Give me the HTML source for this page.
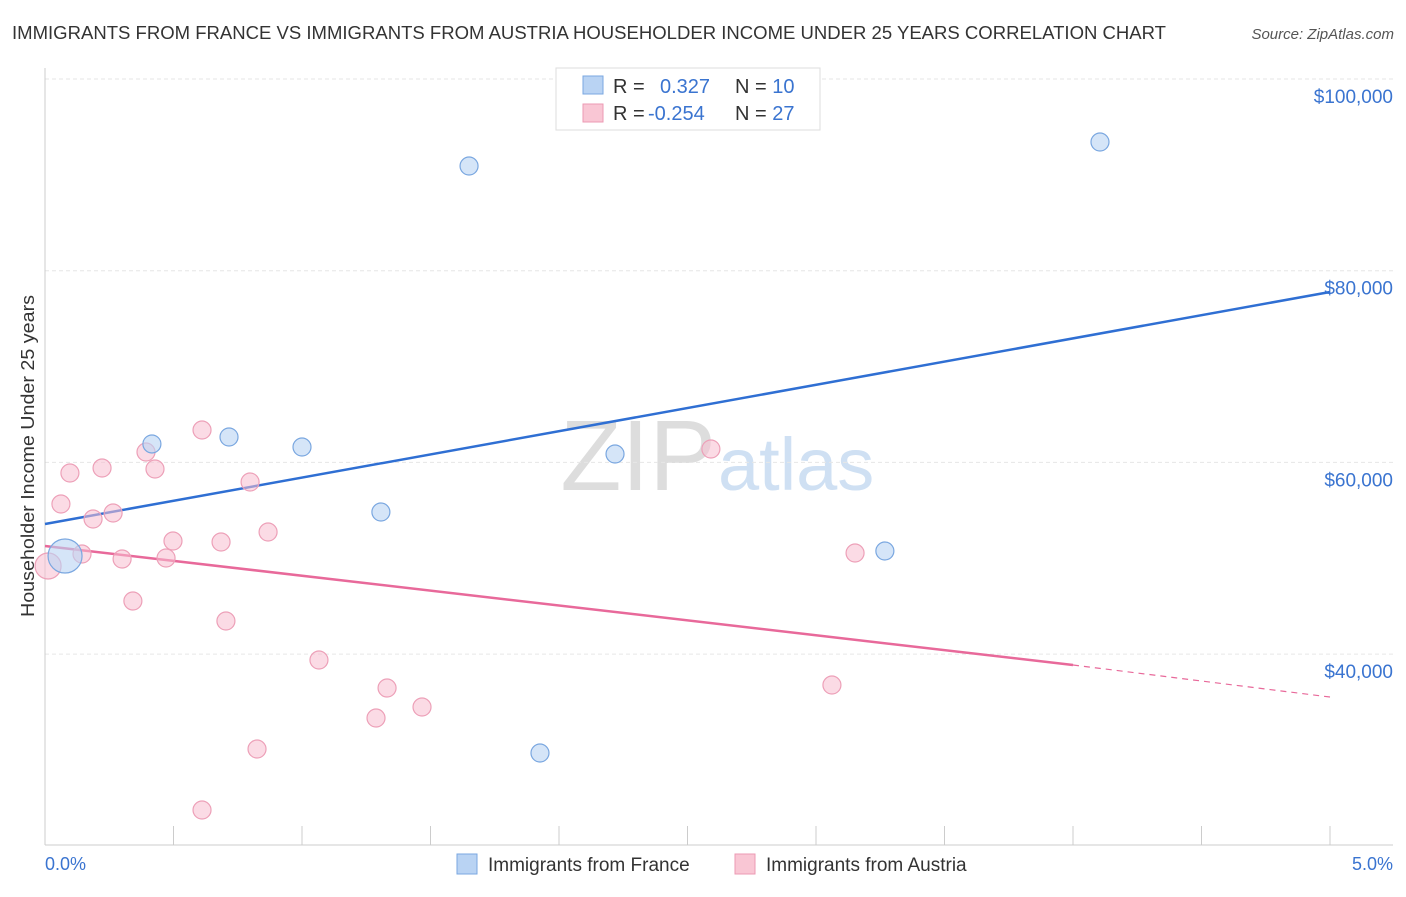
<!DOCTYPE html>
<html><head><meta charset="utf-8"><style>
body{margin:0;background:#fff;font-family:"Liberation Sans",sans-serif;}
svg text{font-family:"Liberation Sans",sans-serif;}
</style></head><body>
<svg id="chart" width="1406" height="892">
<text x="12" y="39" font-size="18" fill="#333" textLength="1154" lengthAdjust="spacingAndGlyphs">IMMIGRANTS FROM FRANCE VS IMMIGRANTS FROM AUSTRIA HOUSEHOLDER INCOME UNDER 25 YEARS CORRELATION CHART</text>
<text x="1394" y="39" font-size="15" fill="#555" text-anchor="end" font-style="italic">Source: ZipAtlas.com</text>
<text x="716" y="490" font-size="100" fill="#ddd" text-anchor="end" font-family="Liberation Serif">ZIP</text>
<text x="718" y="490" font-size="74" fill="#cfe0f3">atlas</text>
<g id="grid"></g><g id="axes"></g><g id="lines"></g><g id="points"></g>
<text transform="translate(34,456) rotate(-90)" font-size="18" fill="#333" text-anchor="middle" textLength="322" lengthAdjust="spacingAndGlyphs">Householder Income Under 25 years</text>
<text x="45" y="870" font-size="18" fill="#3a74d0">0.0%</text>
<text x="1393" y="870" font-size="18" fill="#3a74d0" text-anchor="end">5.0%</text>
<g>
<rect x="556" y="68" width="264" height="62" fill="#fff" stroke="#ddd"/>
<rect x="583" y="76" width="20" height="18" fill="#b9d3f3" stroke="#7aa7e0"/>
<rect x="583" y="104" width="20" height="18" fill="#f9c6d4" stroke="#ec9ab3"/>
<text x="613" y="93" font-size="20" fill="#333">R = <tspan fill="#3a74d0" x="660">0.327</tspan><tspan x="735">N = </tspan><tspan fill="#3a74d0">10</tspan></text>
<text x="613" y="120" font-size="20" fill="#333">R = <tspan fill="#3a74d0" x="648">-0.254</tspan><tspan x="735">N = </tspan><tspan fill="#3a74d0">27</tspan></text>
</g>
<g>
<rect x="457" y="854" width="20" height="20" fill="#b9d3f3" stroke="#7aa7e0"/>
<text x="488" y="871" font-size="19" fill="#333">Immigrants from France</text>
<rect x="735" y="854" width="20" height="20" fill="#f9c6d4" stroke="#ec9ab3"/>
<text x="766" y="871" font-size="19" fill="#333">Immigrants from Austria</text>
</g>
</svg>
<script>
const yTicks=[40000,60000,80000,100000];
const yTickLabels=["$40,000","$60,000","$80,000","$100,000"];
const xTicks=[0,0.5,1,1.5,2,2.5,3,3.5,4,4.5,5];
const franceX=[0.416,0.716,1.0,1.65,1.307,2.218,1.926,3.268,4.105,0.078];
const franceY=[61920,62650,61606,90923,54825,60876,29680,50756,93427,50235];
const franceR=[9,9,9,9,9,9,9,9,9,17];
const austriaX=[0.012,0.062,0.097,0.222,0.187,0.265,0.144,0.3,0.342,0.393,0.428,0.471,0.498,0.611,0.685,0.704,0.798,0.868,0.825,0.611,1.066,1.288,1.331,1.467,2.591,3.152,3.062];
const austriaY=[49190,55659,58893,59415,54094,54720,50443,49921,45539,61084,59311,50026,51799,63379,51694,43452,57954,52738,30097,23733,39383,33332,36462,34480,61398,50547,36775];
const austriaR=[13,9,9,9,9,9,9,9,9,9,9,9,9,9,9,9,9,9,9,9,9,9,9,9,9,9,9];
const franceTrendX=[0,5];
const franceTrendY=[53573,77778];
const austriaTrendX=[0,4,5];
const austriaTrendY=[51278,38862,35521];
const NS="http://www.w3.org/2000/svg";
const X=p=>45+p*257;
const Y=v=>79+(100000-v)*191.7/20000;
function mk(tag,attrs,parent){const e=document.createElementNS(NS,tag);for(const k in attrs)e.setAttribute(k,attrs[k]);document.getElementById(parent).appendChild(e);return e;}
yTicks.forEach((v,i)=>{
 const l=mk('line',{x1:45,x2:1393,y1:Y(v),y2:Y(v),stroke:'#e6e6e6','stroke-dasharray':'4,3'},'grid');
 
 
 const t=mk('text',{x:1393,y:Y(v)+24,'font-size':19,fill:'#3a74d0','text-anchor':'end'},'grid');
 t.textContent=yTickLabels[i];
 
 
});
const ax=mk('line',{x1:45,x2:1393,y1:845,y2:845,stroke:'#ccc'},'axes');


const ay=mk('line',{x1:45,x2:45,y1:68,y2:845,stroke:'#ccc'},'axes');


xTicks.forEach(p=>{
 const t=mk('line',{x1:X(p),x2:X(p),y1:826,y2:845,stroke:'#ccc'},'axes');
 
 
});
const bl=mk('line',{x1:X(franceTrendX[0]),y1:Y(franceTrendY[0]),x2:X(franceTrendX[1]),y2:Y(franceTrendY[1]),stroke:'#2f6fd3','stroke-width':2.5},'lines');


const pl=mk('line',{x1:X(austriaTrendX[0]),y1:Y(austriaTrendY[0]),x2:X(austriaTrendX[1]),y2:Y(austriaTrendY[1]),stroke:'#e8699a','stroke-width':2.5},'lines');


const pd=mk('line',{x1:X(austriaTrendX[1]),y1:Y(austriaTrendY[1]),x2:X(austriaTrendX[2]),y2:Y(austriaTrendY[2]),stroke:'#e8699a','stroke-width':1.2,'stroke-dasharray':'6,5'},'lines');


austriaX.forEach((p,i)=>{
 const c=mk('circle',{cx:X(p),cy:Y(austriaY[i]),r:austriaR[i],fill:'rgba(248,190,207,0.55)',stroke:'#eda0b8','stroke-width':1.2},'points');
 
 
});
franceX.forEach((p,i)=>{
 const c=mk('circle',{cx:X(p),cy:Y(franceY[i]),r:franceR[i],fill:'rgba(185,211,243,0.6)',stroke:'#7aa7e0','stroke-width':1.2},'points');
 
 
});
</script>
</body></html>
